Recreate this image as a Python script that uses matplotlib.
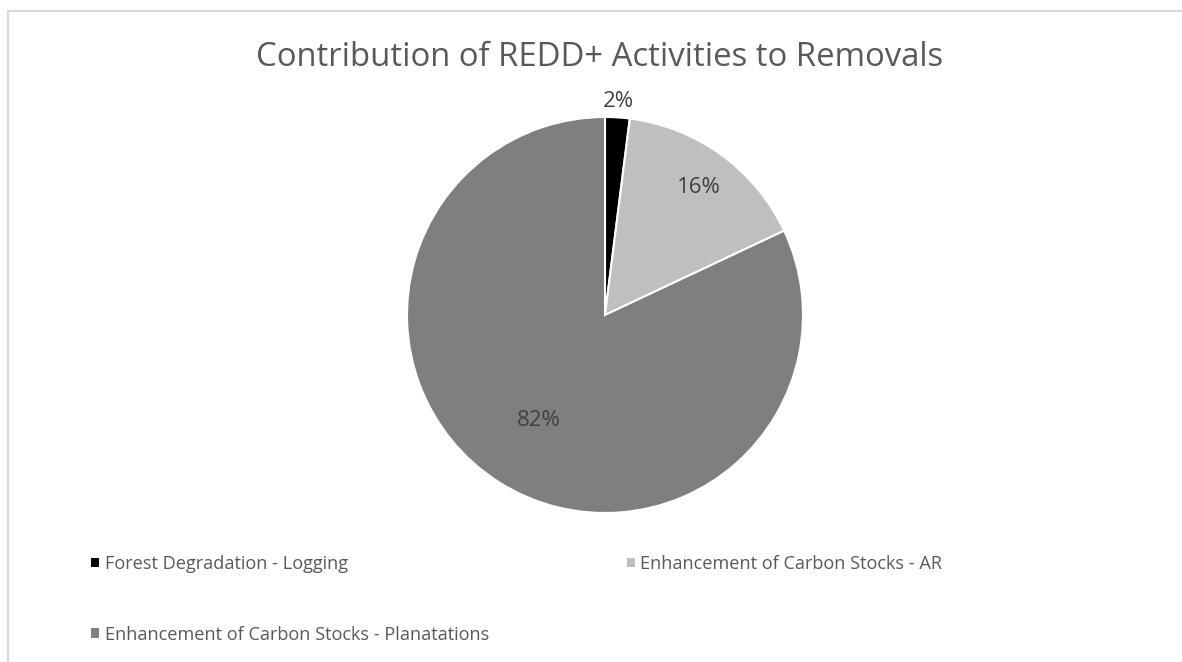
import numpy as np
import matplotlib
matplotlib.use("Agg")
import matplotlib.pyplot as plt
from matplotlib.patches import Rectangle, Patch

plt.rcParams['font.family'] = ['Open Sans', 'DejaVu Sans']

# Data
activities = [
    "Forest Degradation - Logging",
    "Enhancement of Carbon Stocks - AR",
    "Enhancement of Carbon Stocks - Planatations",
]
shares = [2, 16, 82]
colors = ["#000000", "#bfbfbf", "#7f7f7f"]
label_radius = [1.09, 0.81, 0.62]

title = "Contribution of REDD+ Activities to Removals"

W, H = 1182, 662
fig = plt.figure(figsize=(W / 100, H / 100), dpi=100)
fig.patch.set_facecolor("white")

# light chart-area frame
fig.patches.append(Rectangle((8 / W, -0.05), 1.05, (H - 11) / H + 0.05,
                             transform=fig.transFigure, fill=False,
                             edgecolor="#d9d9d9", linewidth=1.5))

cx, cy, r = 605, 315, 198
ax = fig.add_axes([(cx - r) / W, (H - cy - r) / H, 2 * r / W, 2 * r / H])
wedges, _ = ax.pie(shares, colors=colors, startangle=90, counterclock=False,
                   radius=1.0,
                   wedgeprops=dict(edgecolor="white", linewidth=1.5))
ax.set_xlim(-1, 1)
ax.set_ylim(-1, 1)
ax.set_aspect("equal")
ax.axis("off")

# percentage labels placed along each wedge's mid-angle
total = sum(shares)
for w, v, rad in zip(wedges, shares, label_radius):
    mid = np.deg2rad((w.theta1 + w.theta2) / 2)
    ax.text(rad * np.cos(mid), rad * np.sin(mid) - 0.01, f"{v / total * 100:.0f}%",
            ha="center", va="center", fontsize=16, color="#404040")

fig.text(600 / W, 1 - 58 / H, title, ha="center", va="center",
         fontsize=23.7, color="#595959")

handles = [Patch(facecolor=colors[i], edgecolor="none", label=activities[i])
           for i in (0, 2, 1)]
fig.legend(handles=handles, ncol=2, loc="upper left",
           bbox_to_anchor=(91 / W, 1 - 555 / H), frameon=False,
           borderpad=0, borderaxespad=0,
           fontsize=13.1, labelcolor="#595959", handlelength=0.45,
           handleheight=0.45, handletextpad=0.3, labelspacing=2.9,
           columnspacing=7.57)

fig.savefig("out.png", dpi=100)
